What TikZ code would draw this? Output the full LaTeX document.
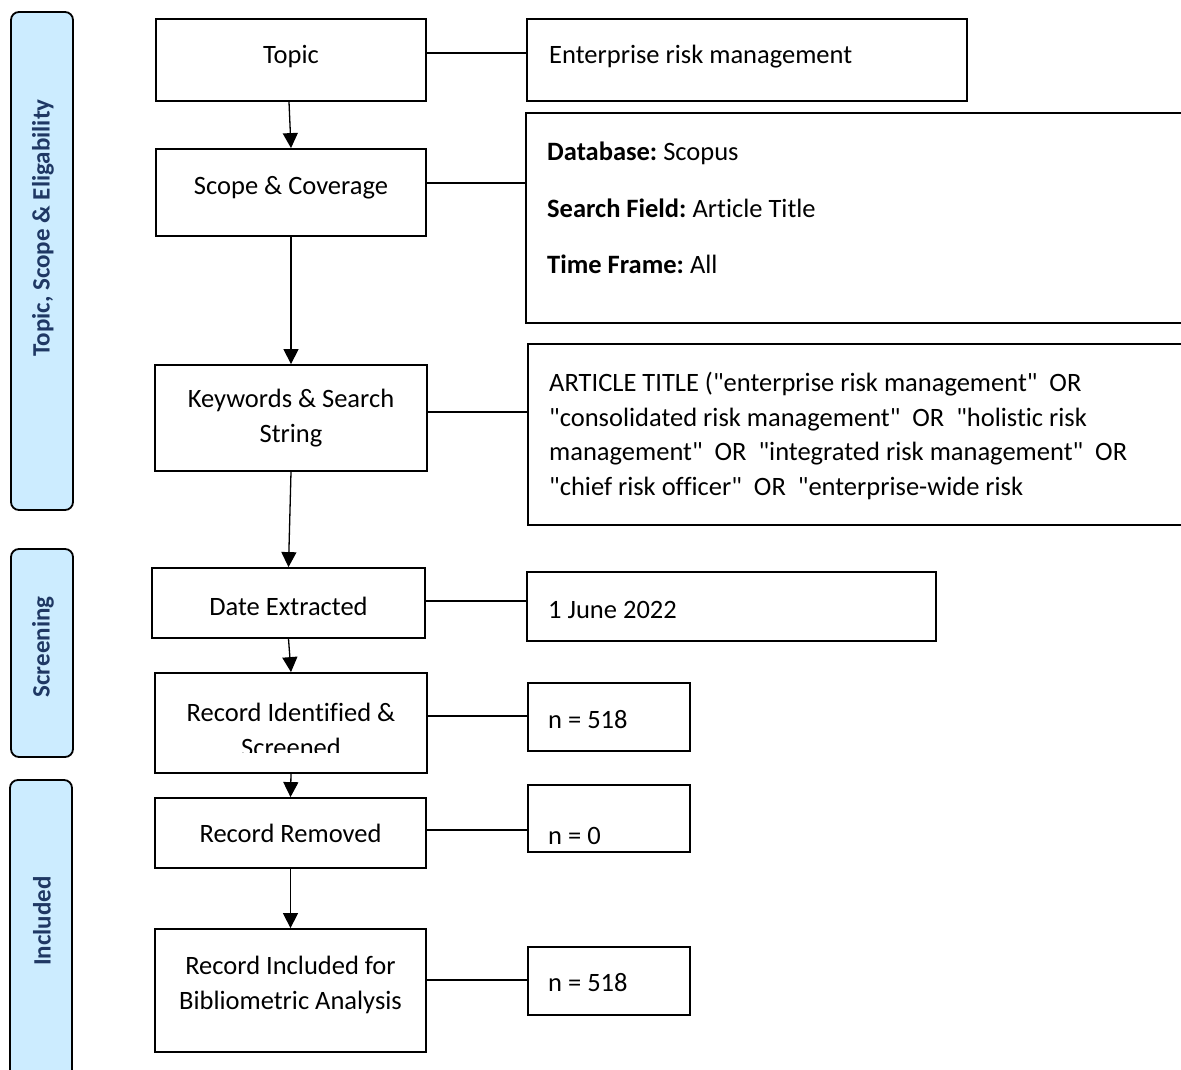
\documentclass[tikz,border=0pt]{standalone}
\usepackage{fontspec}
\setmainfont{Carlito}[Ligatures=NoCommon]
\newfontfamily\plaincal{Carlito}[Ligatures=NoCommon]
\usetikzlibrary{arrows.meta,fit}
\definecolor{barfill}{RGB}{204,236,255}
\definecolor{bartext}{RGB}{31,56,100}
\newcommand\mainfs{\fontsize{26.5}{35}\selectfont}
\newcommand\artfs{\plaincal\fontsize{26.5}{34.7}\selectfont}
\newcommand\sidefs{\fontsize{25}{30}\selectfont}
\frenchspacing
\begin{document}
\begin{tikzpicture}[x=1pt,y=-1pt,
  box/.style={draw, line width=1.8pt, inner sep=0pt},
  side/.style={draw, line width=1.8pt, rounded corners=8pt, fill=barfill, inner sep=0pt},
  sidetxt/.style={rotate=90, inner sep=0pt, font=\sidefs\bfseries, text=bartext},
  txt/.style={inner sep=0pt, anchor=west, align=left, font=\mainfs},
  ctxt/.style={inner sep=0pt, anchor=center, align=center, font=\mainfs},
  link/.style={line width=1.3pt},
  flow/.style={line width=1.3pt, -{Triangle[length=15pt,width=15pt]}}]
\useasboundingbox (0,0) rectangle (1181,1070);
\clip (0,0) rectangle (1181,1070);
\fill[white] (0,0) rectangle (1181,1070);

% side bars
\node[side, fit={(11,12) (73,510)}] (bar1) {};
\node[sidetxt] (bar1t) at (43,228) {Topic, Scope \& Eligability};
\node[side, fit={(11,549) (73,757)}] (bar2) {};
\node[sidetxt] (bar2t) at (43,647) {Screening};
\node[side, fit={(10,780) (72,1100)}] (bar3) {};
\node[sidetxt] (bar3t) at (42,921) {Included};

% main column
\node[box, fit={(156,19) (426,101)}] (topic) {};
\node[ctxt] (topict) at (291,57) {Topic};
\node[box, fit={(156,149) (426,236)}] (scope) {};
\node[ctxt] (scopet) at (291,188) {Scope \& Coverage};
\node[box, fit={(155,365) (427,471)}] (kw) {};
\node[ctxt] (kwt) at (291,418) {Keywords \& Search\\String};
\node[box, fit={(152,568) (425,638)}] (date) {};
\node[ctxt] (datet) at (288.5,606) {Date Extracted};
\node[box, fit={(155,673) (427,773)}] (rid) {};
\begin{scope}
  \clip (155,673) rectangle (427,752);
  \node[ctxt] (ridt) at (291,729.5) {Record Identified \&\\Screened};
\end{scope}
\node[box, fit={(155,798) (426,868)}] (rem) {};
\node[ctxt] (remt) at (290.5,833) {Record Removed};
\node[box, fit={(155,929) (426,1052)}] (inc) {};
\node[ctxt] (inct) at (290.5,985) {Record Included for\\Bibliometric Analysis};

% right column
\node[box, fit={(527,19) (967,101)}] (erm) {};
\node[txt] (ermt) at (549,57) {Enterprise risk management};
\node[box, fit={(526,113) (1195,323)}] (db) {};
\node[txt] (dbt1) at (547,153) {\textbf{Database:} Scopus};
\node[txt] (dbt2) at (547,208) {\textbf{Search Field:} Article Title};
\node[txt] (dbt3) at (547,264) {\textbf{Time Frame:} All};
\node[box, fit={(528,344) (1195,525)}] (art) {};
\node[txt, font=\artfs] (artt) at (549,436) {ARTICLE TITLE ("enterprise risk management"~ OR\\
"consolidated risk management"~ OR~ "holistic risk\\
management"~ OR~ "integrated risk management"~ OR\\
"chief risk officer"~ OR~ "enterprise-wide risk};
\node[box, fit={(527,572) (936,641)}] (june) {};
\node[txt] (junet) at (548,610) {1 June 2022};
\node[box, fit={(528,683) (690,751)}] (na) {};
\node[txt] (nat) at (548,720) {n = 518};
\node[box, fit={(528,785) (690,852)}] (nb) {};
\node[txt] (nbt) at (548,836) {n = 0};
\node[box, fit={(528,947) (690,1015)}] (nc) {};
\node[txt] (nct) at (548,983) {n = 518};

% horizontal links
\draw[link] ([yshift=7pt]topic.east) -- ([yshift=7pt]erm.west);
\draw[link] ([yshift=9.5pt]scope.east) -- ([yshift=35pt]db.west);
\draw[link] ([yshift=6pt]kw.east) -- ([yshift=22.5pt]art.west);
\draw[link] ([yshift=2pt]date.east) -- ([yshift=5.5pt]june.west);
\draw[link] ([yshift=7pt]rid.east) -- ([yshift=1pt]na.west);
\draw[link] ([yshift=3pt]rem.east) -- ([yshift=-11.5pt]nb.west);
\draw[link] ([yshift=10.5pt]inc.east) -- ([yshift=1pt]nc.west);

% flow arrows
\draw[flow] ([xshift=-2pt]topic.south) -- (scope.north);
\draw[flow] (scope.south) -- (kw.north);
\draw[flow] (kw.south) -- (date.north);
\draw[flow] (date.south) -- (rid.north);
\draw[flow] (rid.south) -- (rem.north);
\draw[flow] (rem.south) -- (inc.north);
\end{tikzpicture}
\end{document}
